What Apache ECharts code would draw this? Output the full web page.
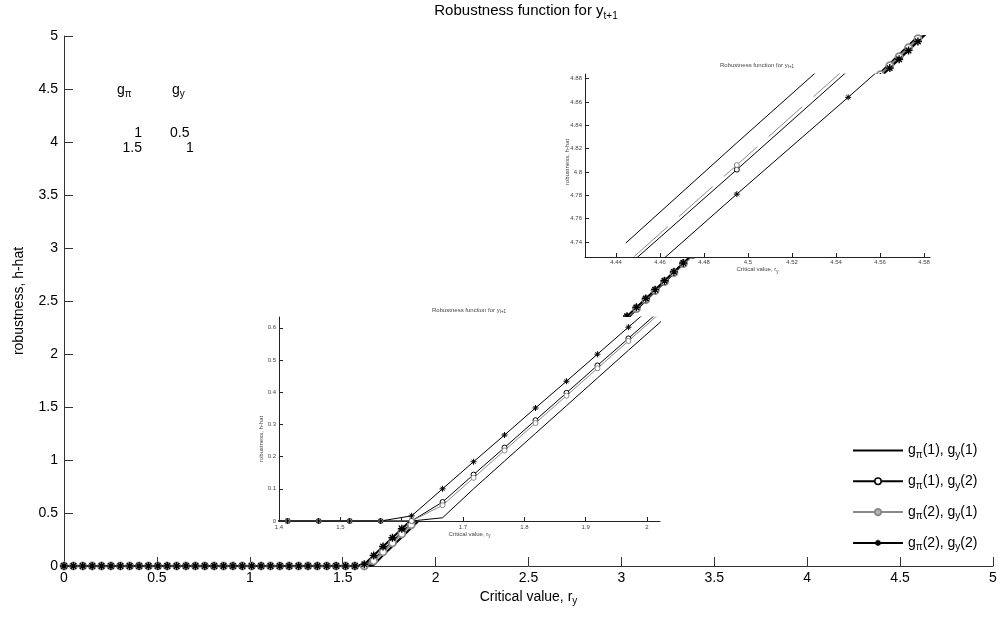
<!DOCTYPE html>
<html><head><meta charset="utf-8">
<script src="https://cdn.jsdelivr.net/npm/echarts@6/dist/echarts.min.js"></script>
<style>html,body{margin:0;padding:0;background:#fff}#c{width:1006px;height:619px}</style>
</head><body><div id="c"></div>
<script>
// ---- data ----
const rValues = [
0,0.0505,0.1010,0.1515,0.2020,0.2525,0.3030,0.3535,0.4040,0.4545,
0.5051,0.5556,0.6061,0.6566,0.7071,0.7576,0.8081,0.8586,0.9091,0.9596,
1.0101,1.0606,1.1111,1.1616,1.2121,1.2626,1.3131,1.3636,1.4141,1.4646,
1.5152,1.5657,1.6162,1.6667,1.7172,1.7677,1.8182,1.8687,1.9192,1.9697,
2.0202,2.0707,2.1212,2.1717,2.2222,2.2727,2.3232,2.3737,2.4242,2.4747,
2.5253,2.5758,2.6263,2.6768,2.7273,2.7778,2.8283,2.8788,2.9293,2.9798,
3.0303,3.0808,3.1313,3.1818,3.2323,3.2828,3.3333,3.3838,3.4343,3.4848,
3.5354,3.5859,3.6364,3.6869,3.7374,3.7879,3.8384,3.8889,3.9394,3.9899,
4.0404,4.0909,4.1414,4.1919,4.2424,4.2929,4.3434,4.3939,4.4444,4.4949,
4.5455,4.5960,4.6465];
const hatPi1Y1 = [
0,0,0,0,0,0,0,0,0,0,
0,0,0,0,0,0,0,0,0,0,
0,0,0,0,0,0,0,0,0,0,
0,0,0,0.010,0.100,0.186,0.272,0.358,0.444,0.530,
0.615,0.701,0.787,0.873,0.959,1.045,1.131,1.217,1.303,1.389,
1.474,1.560,1.646,1.732,1.818,1.904,1.990,2.076,2.162,2.248,
2.333,2.419,2.505,2.591,2.677,2.763,2.849,2.935,3.021,3.107,
3.192,3.278,3.364,3.450,3.536,3.622,3.708,3.794,3.880,3.966,
4.051,4.137,4.223,4.309,4.395,4.481,4.567,4.653,4.739,4.825,
4.910,4.996,5.082];
const hatPi1Y2 = [
0,0,0,0,0,0,0,0,0,0,
0,0,0,0,0,0,0,0,0,0,
0,0,0,0,0,0,0,0,0,0,
0,0,0,0.059,0.144,0.228,0.313,0.398,0.483,0.567,
0.652,0.737,0.821,0.906,0.991,1.075,1.160,1.245,1.330,1.414,
1.499,1.584,1.668,1.753,1.838,1.922,2.007,2.092,2.177,2.261,
2.346,2.431,2.515,2.600,2.685,2.769,2.854,2.939,3.024,3.108,
3.193,3.278,3.362,3.447,3.532,3.616,3.701,3.786,3.871,3.955,
4.040,4.125,4.209,4.294,4.379,4.463,4.548,4.633,4.718,4.802,
4.887,4.972,5.056];
const hatPi2Y1 = [
0,0,0,0,0,0,0,0,0,0,
0,0,0,0,0,0,0,0,0,0,
0,0,0,0,0,0,0,0,0,0,
0,0,0,0.049,0.134,0.219,0.304,0.389,0.474,0.559,
0.644,0.729,0.814,0.899,0.984,1.068,1.153,1.238,1.323,1.408,
1.493,1.578,1.663,1.748,1.833,1.918,2.003,2.088,2.173,2.258,
2.343,2.428,2.513,2.598,2.683,2.768,2.852,2.937,3.022,3.107,
3.192,3.277,3.362,3.447,3.532,3.617,3.702,3.787,3.872,3.957,
4.042,4.127,4.212,4.297,4.382,4.467,4.551,4.636,4.721,4.806,
4.891,4.976,5.061];
const hatPi2Y2 = [
0,0,0,0,0,0,0,0,0,0,
0,0,0,0,0,0,0,0,0,0,
0,0,0,0,0,0,0,0,0,0,
0,0,0.016,0.100,0.184,0.267,0.351,0.434,0.518,0.602,
0.685,0.769,0.852,0.936,1.019,1.103,1.187,1.270,1.354,1.437,
1.521,1.604,1.688,1.772,1.855,1.939,2.022,2.106,2.190,2.273,
2.357,2.440,2.524,2.607,2.691,2.775,2.858,2.942,3.025,3.109,
3.193,3.276,3.360,3.443,3.527,3.610,3.694,3.778,3.861,3.945,
4.028,4.112,4.195,4.279,4.363,4.446,4.530,4.613,4.697,4.781,
4.864,4.948,5.031];
const seriesNames = ['s1','s2','s3','s4'];
const legendLabels = ['g{s|π}(1), g{s|y}(1)','g{s|π}(1), g{s|y}(2)','g{s|π}(2), g{s|y}(1)','g{s|π}(2), g{s|y}(2)'];
const mainXTicks = {min:0, max:5, interval:0.5};
const mainYTicks = {min:0, max:5, interval:0.5};
const inset1XTicks = [1.4,1.5,1.6,1.7,1.8,1.9,2.0];
const inset1YTicks = [0,0.1,0.2,0.3,0.4,0.5,0.6];
const inset2XTicks = [4.44,4.46,4.48,4.5,4.52,4.54,4.56,4.58];
const inset2YTicks = [4.74,4.76,4.78,4.8,4.82,4.84,4.86,4.88];
const paramHeader = ['g{s|π}','g{s|y}'];
const paramRows = [['1','0.5'],['1.5','1']];

// ---- chart ----
const FONT = '"Liberation Sans", Arial, Helvetica, sans-serif';
const GREY = '#8a8a8a';
const STAR = 'path://M5,0L5,10M0,5L10,5M1.6,1.6L8.4,8.4M8.4,1.6L1.6,8.4';
const defs = [
  {vals: hatPi1Y1, color:'#000', symbol:'none', fill:'#000'},
  {vals: hatPi1Y2, color:'#000', symbol:'circle', fill:'#fff'},
  {vals: hatPi2Y1, color:GREY, symbol:'circle', fill:'#fff'},
  {vals: hatPi2Y2, color:'#000', symbol:STAR, fill:'#000'}
];
function pairs(ys, from, to){const o=[];for(let i=from;i<=to&&i<ys.length;i++)o.push([rValues[i],ys[i]]);return o;}
const series = [];
function addSet(xi, yi, lw, sizes, bws, z, from, to, dashGrey){
  defs.forEach((d,i)=>{
    const dashed = dashGrey && i===2;
    series.push({
      name: seriesNames[i], type:'line', xAxisIndex:xi, yAxisIndex:yi,
      data: pairs(d.vals, from, to),
      symbol: d.symbol, symbolSize: sizes[i], showSymbol: d.symbol!=='none',
      lineStyle:{color:d.color, width:lw, type: dashed ? [45,15] : 'solid', dashOffset: dashed ? 48.5 : 0},
      itemStyle:{color:d.fill, borderColor:d.color, borderWidth:bws[i]},
      z:z, clip:true, silent:true, animation:false, emphasis:{disabled:true}
    });
  });
}
addSet(0,0,2,[0,6,7,8],[0,1.5,1.8,1.4],2,0,92,false);
addSet(1,1,1,[0,5,5,6],[0,1,1,1],5,0,92,false);
addSet(3,2,1,[0,5,5,6],[0,1,1,1],5,88,92,true);

const subRich = (fs, sub, pad, col) => ({s:{fontSize:sub, padding:[pad,0,0,0], color:col, fontFamily:FONT}});
const inAxisLine = {show:true, onZero:false, lineStyle:{color:'#222', width:1}};
const fmt = v => String(+(+v).toFixed(3));

const option = {
  animation:false,
  backgroundColor:'#fff',
  textStyle:{fontFamily:FONT},
  title:{
    text:'Robustness function for y{s|t+1}', left:526, top:0, textAlign:'center', padding:0,
    textStyle:{fontSize:15, fontWeight:'normal', color:'#000', fontFamily:FONT, rich:subRich(15,10,11,'#000')}
  },
  grid:[
    {left:64, right:13, top:36, bottom:53, show:false, outerBoundsMode:'none'},
    {left:279, top:317, width:381, height:204, show:true, backgroundColor:'#fff', borderWidth:0, z:3, outerBoundsMode:'none'},
    {left:585, top:74, width:345, height:183, show:true, backgroundColor:'#fff', borderWidth:0, z:3, outerBoundsMode:'none'}
  ],
  xAxis:[
    {gridIndex:0, type:'value', min:mainXTicks.min, max:mainXTicks.max, interval:mainXTicks.interval,
     axisLine:{show:true, onZero:false, lineStyle:{color:'#333', width:1}},
     axisTick:{show:true, inside:true, length:9, lineStyle:{color:'#333'}},
     axisLabel:{fontSize:14, color:'#000', margin:5, fontFamily:FONT},
     splitLine:{show:false},
     name:'Critical value, r{s|y}', nameLocation:'middle', nameGap:18,
     nameTextStyle:{fontSize:14, color:'#000', fontFamily:FONT, rich:subRich(14,10,9,'#000')}},
    {gridIndex:1, type:'value', min:1.4, max:2.0212, z:4,
     axisLine:inAxisLine,
     axisTick:{show:true, inside:true, length:4, lineStyle:{color:'#222'}, customValues:inset1XTicks},
     axisLabel:{show:false}, splitLine:{show:false}},
    {gridIndex:1, type:'value', min:1.4, max:2.0212, z:1, position:'bottom',
     axisLine:{show:false}, axisTick:{show:false},
     axisLabel:{show:true, fontSize:6, color:'#444', margin:3, customValues:inset1XTicks, formatter:fmt},
     splitLine:{show:false},
     name:'Critical value, r{s|y}', nameLocation:'middle', nameGap:8,
     nameTextStyle:{fontSize:6, color:'#444', fontFamily:FONT, rich:subRich(6,4.5,4,'#444')}},
    {gridIndex:2, type:'value', min:4.4259, max:4.5827, z:4,
     axisLine:inAxisLine,
     axisTick:{show:true, inside:true, length:4, lineStyle:{color:'#222'}, customValues:inset2XTicks},
     axisLabel:{show:true, fontSize:6, color:'#444', margin:2, customValues:inset2XTicks, formatter:fmt},
     splitLine:{show:false},
     name:'Critical value, r{s|y}', nameLocation:'middle', nameGap:8,
     nameTextStyle:{fontSize:6, color:'#444', fontFamily:FONT, rich:subRich(6,4.5,4,'#444')}}
  ],
  yAxis:[
    {gridIndex:0, type:'value', min:mainYTicks.min, max:mainYTicks.max, interval:mainYTicks.interval,
     axisLine:{show:true, onZero:false, lineStyle:{color:'#333', width:1}},
     axisTick:{show:true, inside:true, length:9, lineStyle:{color:'#333'}},
     axisLabel:{fontSize:14, color:'#000', margin:6, fontFamily:FONT},
     splitLine:{show:false},
     name:'robustness, h-hat', nameLocation:'middle', nameGap:38,
     nameTextStyle:{fontSize:14, color:'#000', fontFamily:FONT}},
    {gridIndex:1, type:'value', min:0, max:0.6335, z:4,
     axisLine:inAxisLine,
     axisTick:{show:true, inside:true, length:4, lineStyle:{color:'#222'}, customValues:inset1YTicks},
     axisLabel:{show:true, fontSize:6, color:'#444', margin:3, customValues:inset1YTicks, formatter:fmt},
     splitLine:{show:false}},
    {gridIndex:2, type:'value', min:4.7271, max:4.8840, z:4,
     axisLine:inAxisLine,
     axisTick:{show:true, inside:true, length:4, lineStyle:{color:'#222'}, customValues:inset2YTicks},
     axisLabel:{show:true, fontSize:6, color:'#444', margin:3, customValues:inset2YTicks, formatter:fmt},
     splitLine:{show:false}}
  ],
  legend:{
    orient:'vertical', left:852, top:443.5, padding:0, itemWidth:50, itemHeight:8, itemGap:14.3,
    selectedMode:false, z:8,
    formatter: n => legendLabels[seriesNames.indexOf(n)],
    textStyle:{fontSize:14, color:'#000', fontFamily:FONT, rich:subRich(14,10,9,'#000')},
    data:[
      {name:'s1', itemStyle:{opacity:0}, lineStyle:{color:'#000', width:2}},
      {name:'s2', itemStyle:{color:'#fff', borderColor:'#000', borderWidth:1.5}, lineStyle:{color:'#000', width:2}},
      {name:'s3', itemStyle:{color:'#b5b5b5', borderColor:GREY, borderWidth:2}, lineStyle:{color:GREY, width:2}},
      {name:'s4', itemStyle:{color:'#000', borderColor:'#000', borderWidth:1.5}, lineStyle:{color:'#000', width:2}}
    ]
  },
  graphic:[],
  series: series
};

function txt(x, y, text, opts){
  opts = opts || {};
  const fs = opts.fs || 14, col = opts.col || '#000';
  return {type:'text', x:x, y:y, z:10, rotation: opts.rot || 0, silent:true,
    style:{text:text, fontSize:fs, fontFamily:FONT, fill:col,
      align:opts.align||'left', textAlign:opts.align||'left',
      verticalAlign:'middle', textVerticalAlign:'middle',
      rich:{s:{fontSize:opts.sub||10, padding:[opts.pad||9,0,0,0], fill:col, fontFamily:FONT}}}};
}
option.graphic = [
  txt(117, 90, paramHeader[0], {sub:10, pad:9}),
  txt(172, 90, paramHeader[1], {sub:10, pad:9}),
  txt(142, 133, paramRows[0][0], {align:'right'}),
  txt(170, 133, paramRows[0][1], {align:'left'}),
  txt(142, 148, paramRows[1][0], {align:'right'}),
  txt(186, 148, paramRows[1][1], {align:'left'}),
  txt(469, 310, 'Robustness function for y{s|t+1}', {fs:6, sub:4.5, pad:4, col:'#444', align:'center'}),
  txt(757, 65, 'Robustness function for y{s|t+1}', {fs:6, sub:4.5, pad:4, col:'#444', align:'center'}),
  txt(261, 439, 'robustness, h-hat', {fs:6, col:'#444', align:'center', rot:Math.PI/2}),
  txt(567, 162, 'robustness, h-hat', {fs:6, col:'#444', align:'center', rot:Math.PI/2})
];

const chart = echarts.init(document.getElementById('c'), null, {renderer:'canvas', width:1006, height:619});
chart.setOption(option);
</script>
</body></html>
